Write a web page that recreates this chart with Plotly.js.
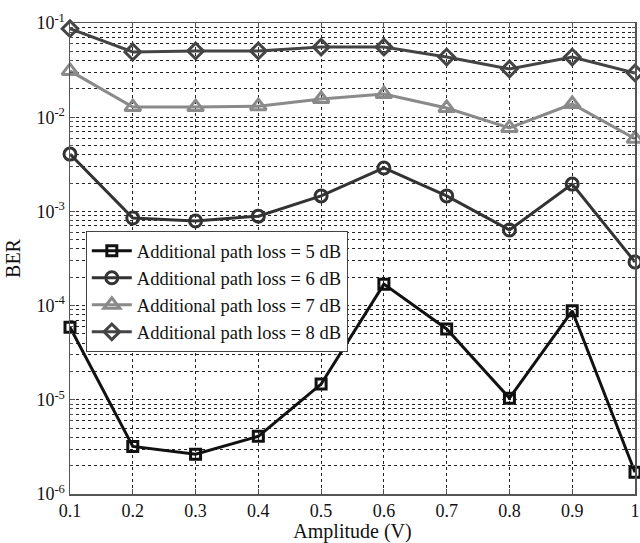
<!DOCTYPE html>
<html>
<head>
<meta charset="utf-8">
<script src="https://cdn.plot.ly/plotly-3.0.1.min.js"></script>
<style>
  html, body { margin: 0; padding: 0; background: #fff; }
  #chart { width: 640px; height: 543px; }
</style>
</head>
<body>
<div id="chart"></div>
<script>
// Amplitude sweep (V)
const amplitude = [0.1, 0.2, 0.3, 0.4, 0.5, 0.6, 0.7, 0.8, 0.9, 1.0];

// Bit error rate for each additional path loss
const ber5dB = [5.9e-5, 3.2e-6, 2.65e-6, 4.1e-6, 1.47e-5, 1.69e-4, 5.65e-5, 1.04e-5, 8.8e-5, 1.7e-6];
const ber6dB = [4.06e-3, 8.5e-4, 7.9e-4, 8.9e-4, 1.46e-3, 2.89e-3, 1.46e-3, 6.35e-4, 1.95e-3, 2.9e-4];
const ber7dB = [3.1e-2, 1.28e-2, 1.28e-2, 1.31e-2, 1.56e-2, 1.76e-2, 1.25e-2, 7.7e-3, 1.38e-2, 5.9e-3];
const ber8dB = [8.7e-2, 4.92e-2, 5.05e-2, 5.05e-2, 5.55e-2, 5.55e-2, 4.35e-2, 3.25e-2, 4.35e-2, 2.95e-2];

const seriesNames = [
  'Additional path loss = 5 dB',
  'Additional path loss = 6 dB',
  'Additional path loss = 7 dB',
  'Additional path loss = 8 dB'
];

const xTickVals = [0.1, 0.2, 0.3, 0.4, 0.5, 0.6, 0.7, 0.8, 0.9, 1.0];
const xTickText = ['0.1', '0.2', '0.3', '0.4', '0.5', '0.6', '0.7', '0.8', '0.9', '1'];
const decadeExponents = [-6, -5, -4, -3, -2, -1];

// log-axis ticks: labelled decades, with the 2..9 subdivisions as minor ticks/grid
const yTickVals = [];
const yTickText = [];
const yMinorVals = [];
decadeExponents.forEach(function (e, i) {
  yTickVals.push(Math.pow(10, e));
  yTickText.push('10<sup>' + e + '</sup>');
  if (i < decadeExponents.length - 1) {
    for (let m = 2; m <= 9; m++) yMinorVals.push(m * Math.pow(10, e));
  }
});

const styles = [
  { color: '#111111', symbol: 'square-open', size: 10 },
  { color: '#333333', symbol: 'circle-open', size: 12 },
  { color: '#8a8a8a', symbol: 'triangle-up-open', size: 14 },
  { color: '#444444', symbol: 'diamond-open', size: 12 }
];
const seriesData = [ber5dB, ber6dB, ber7dB, ber8dB];

const traces = seriesData.map(function (ys, i) {
  return {
    x: amplitude,
    y: ys,
    name: seriesNames[i],
    type: 'scatter',
    mode: 'lines+markers',
    line: { color: styles[i].color, width: 3 },
    marker: {
      symbol: styles[i].symbol,
      size: styles[i].size,
      color: styles[i].color,
      line: { color: styles[i].color, width: 3 }
    },
    cliponaxis: false
  };
});

const serif = 'Liberation Serif, Times New Roman, serif';
const gridDash = '3px,3px';

const layout = {
  width: 640,
  height: 543,
  margin: { l: 70, r: 5, t: 23, b: 49 },
  paper_bgcolor: '#ffffff',
  plot_bgcolor: '#ffffff',
  font: { family: serif, size: 18, color: '#111' },
  showlegend: true,
  legend: {
    x: 0.028, y: 0.558, xanchor: 'left', yanchor: 'top',
    bgcolor: '#ffffff',
    bordercolor: '#444',
    borderwidth: 1,
    font: { family: serif, size: 18.5, color: '#111' },
    tracegroupgap: 0,
    itemwidth: 40
  },
  xaxis: {
    range: [0.1, 1.0],
    tickvals: xTickVals,
    ticktext: xTickText,
    showgrid: true,
    gridcolor: '#222',
    gridwidth: 1,
    griddash: gridDash,
    zeroline: false,
    showline: true,
    linecolor: '#555',
    linewidth: 1.5,
    mirror: 'ticks',
    ticks: 'inside',
    ticklen: 5,
    tickcolor: '#555',
    tickfont: { family: serif, size: 18, color: '#111' },
    title: { text: 'Amplitude (V)', font: { family: serif, size: 20, color: '#111' }, standoff: 4 }
  },
  yaxis: {
    type: 'log',
    range: [-6, -1],
    tickmode: 'array',
    tickvals: yTickVals,
    ticktext: yTickText,
    showgrid: true,
    gridcolor: '#222',
    gridwidth: 1,
    griddash: gridDash,
    minor: {
      tickmode: 'array',
      tickvals: yMinorVals,
      ticks: 'inside',
      ticklen: 3,
      tickcolor: '#555',
      showgrid: true,
      gridcolor: '#222',
      gridwidth: 1,
      griddash: gridDash
    },
    zeroline: false,
    showline: true,
    linecolor: '#555',
    linewidth: 1.5,
    mirror: 'ticks',
    ticks: 'inside',
    ticklen: 5,
    tickcolor: '#555',
    tickfont: { family: serif, size: 18, color: '#111' },
    title: { text: 'BER', font: { family: serif, size: 20, color: '#111' }, standoff: 10 }
  }
};

Plotly.newPlot('chart', traces, layout, { displayModeBar: false, staticPlot: true });
</script>
</body>
</html>
